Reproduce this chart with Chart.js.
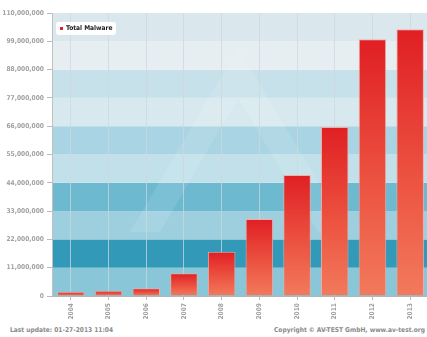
<!DOCTYPE html>
<html>
<head>
<meta charset="utf-8">
<script src="https://cdn.jsdelivr.net/npm/chart.js@4.4.0/dist/chart.umd.min.js"></script>
<style>
  html, body { margin: 0; padding: 0; background: #fff; overflow: hidden; }
  body { width: 427px; height: 337px; position: relative; font-family: "DejaVu Sans Condensed", "DejaVu Sans", sans-serif; }
  #wrap { position: absolute; left: 0; top: 0; width: 429px; height: 322px; }
  .foot { position: absolute; top: 326px; font-size: 6.6px; font-weight: bold; color: #8a8a8a; white-space: nowrap; }
  #upd { left: 10px; }
  #copy { right: 2px; }
</style>
</head>
<body>
<div id="wrap"><canvas id="malwareChart"></canvas></div>
<div class="foot" id="upd">Last update: 01-27-2013 11:04</div>
<div class="foot" id="copy">Copyright © AV-TEST GmbH, www.av-test.org</div>
<script>
// data
const years = ["2004", "2005", "2006", "2007", "2008", "2009", "2010", "2011", "2012", "2013"];
const totalMalware = [1700000, 2060000, 3000000, 8800000, 17200000, 29900000, 47000000, 65700000, 99800000, 103700000];
const seriesName = "Total Malware";
const yMax = 110000000;
const yStep = 11000000;

// background bands, bottom to top (one per 11M step)
const bandColors = ["#88c6d8", "#3399b8", "#9dcfdf", "#6cb9d0", "#c1e0ea", "#a9d4e3", "#d7e9ef", "#c7e1eb", "#e6eef1", "#dae8ee"];

const bandsPlugin = {
    id: "bands",
    beforeDraw(chart) {
        const { ctx, chartArea, scales } = chart;
        const y = scales.y;
        ctx.save();
        for (let i = 0; i < bandColors.length; i++) {
            const top = y.getPixelForValue((i + 1) * yStep);
            const bot = y.getPixelForValue(i * yStep);
            ctx.fillStyle = bandColors[i];
            ctx.fillRect(chartArea.left, top, chartArea.right - chartArea.left, bot - top);
        }
        // faint "A" watermark
        ctx.beginPath();
        ctx.rect(chartArea.left, chartArea.top, chartArea.right - chartArea.left, chartArea.bottom - chartArea.top);
        ctx.clip();
        ctx.beginPath();
        ctx.moveTo(238, 48);
        ctx.lineTo(130, 232);
        ctx.lineTo(160, 232);
        ctx.lineTo(238, 98);
        ctx.lineTo(318, 232);
        ctx.lineTo(348, 232);
        ctx.closePath();
        ctx.fillStyle = "rgba(255,255,255,0.11)";
        ctx.fill();
        ctx.restore();
    }
};

const legendPlugin = {
    id: "boxLegend",
    afterDraw(chart) {
        const ctx = chart.ctx;
        ctx.save();
        ctx.fillStyle = "#ffffff";
        ctx.beginPath();
        ctx.roundRect(56, 22, 60, 13, 3);
        ctx.fill();
        ctx.fillStyle = "#e0202a";
        ctx.fillRect(60, 27, 3, 3);
        ctx.fillStyle = "#222";
        ctx.font = "bold 6.6px 'DejaVu Sans Condensed', 'DejaVu Sans', sans-serif";
        ctx.textBaseline = "middle";
        ctx.fillText(seriesName, 66, 28.7);
        ctx.restore();
    }
};

function barGradient(c) {
    const chart = c.chart;
    if (!chart.chartArea || c.raw === undefined) return "#e8402f";
    const top = chart.scales.y.getPixelForValue(c.raw);
    const bot = chart.scales.y.getPixelForValue(0);
    const g = chart.ctx.createLinearGradient(0, top, 0, bot);
    g.addColorStop(0, "#e01f24");
    g.addColorStop(0.55, "#ec5240");
    g.addColorStop(1, "#f27a5c");
    return g;
}

const tickFont = { family: "'DejaVu Sans Condensed', 'DejaVu Sans', sans-serif", size: 6.6, weight: "bold" };

new Chart(document.getElementById("malwareChart"), {
    type: "bar",
    data: {
        labels: years,
        datasets: [{
            label: seriesName,
            data: totalMalware,
            backgroundColor: barGradient,
            borderColor: "rgba(245,170,160,0.9)",
            borderWidth: 1,
            borderSkipped: "bottom",
            barPercentage: 0.73,
            categoryPercentage: 1
        }]
    },
    options: {
        responsive: true,
        maintainAspectRatio: false,
        animation: false,
        layout: { padding: { top: 13, right: 0, left: 0, bottom: 0 } },
        plugins: { legend: { display: false }, tooltip: { enabled: false } },
        scales: {
            x: {
                grid: { offset: false, color: "rgba(205,215,220,0.75)", lineWidth: 1, tickLength: 4, tickColor: "#bbb" },
                border: { color: "#b5b5b5" },
                ticks: { color: "#a0a0a0", font: tickFont, minRotation: 90, maxRotation: 90, padding: 3 },
                afterFit(scale) { scale.height = 26; }
            },
            y: {
                min: 0,
                max: yMax,
                grid: { drawOnChartArea: false, tickLength: 5, tickColor: "#bbb" },
                border: { color: "#c0c0c0" },
                ticks: {
                    stepSize: yStep,
                    color: "#a0a0a0",
                    font: tickFont,
                    padding: 3,
                    callback: (v) => v.toLocaleString("en-US")
                },
                afterFit(scale) { scale.width = 52; }
            }
        }
    },
    plugins: [bandsPlugin, legendPlugin]
});
</script>
</body>
</html>
